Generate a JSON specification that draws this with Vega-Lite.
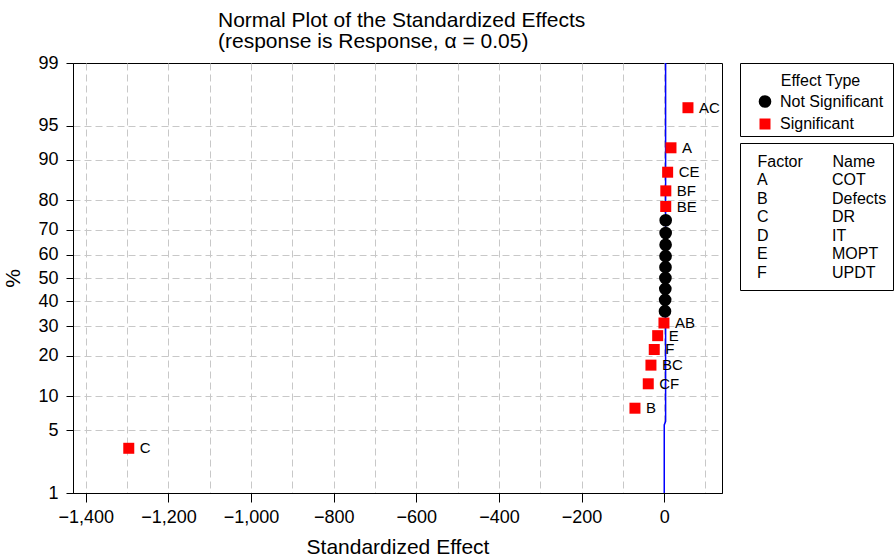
{
  "$schema": "https://vega.github.io/schema/vega-lite/v6.json",
  "padding": {"left": 2, "top": 9, "right": 2, "bottom": 0},
  "config": {
    "font": "Liberation Sans",
    "view": {"stroke": "black", "strokeWidth": 1},
    "axis": {"labelColor": "black", "titleColor": "black", "domainColor": "black", "tickColor": "black", "titleFontWeight": "normal"}
  },
  "datasets": {
    "effects": [
      {"term": "C", "effect": -1296, "z": -1.8425, "type": "Significant"},
      {"term": "B", "effect": -70.7, "z": -1.4089, "type": "Significant"},
      {"term": "CF", "effect": -38.5, "z": -1.1447, "type": "Significant"},
      {"term": "BC", "effect": -32, "z": -0.9428, "type": "Significant"},
      {"term": "F", "effect": -24, "z": -0.7735, "type": "Significant"},
      {"term": "E", "effect": -15.7, "z": -0.6239, "type": "Significant"},
      {"term": "AB", "effect": -0.5, "z": -0.4871, "type": "Significant"},
      {"term": "D", "effect": 2.0, "z": -0.359, "type": "Not Significant"},
      {"term": "AD", "effect": 2.4, "z": -0.2365, "type": "Not Significant"},
      {"term": "AE", "effect": 2.8, "z": -0.1174, "type": "Not Significant"},
      {"term": "AF", "effect": 3.0, "z": 0, "type": "Not Significant"},
      {"term": "BD", "effect": 3.2, "z": 0.1174, "type": "Not Significant"},
      {"term": "CD", "effect": 3.4, "z": 0.2365, "type": "Not Significant"},
      {"term": "DE", "effect": 3.5, "z": 0.359, "type": "Not Significant"},
      {"term": "DF", "effect": 3.6, "z": 0.4871, "type": "Not Significant"},
      {"term": "EF", "effect": 3.7, "z": 0.6239, "type": "Not Significant"},
      {"term": "BE", "effect": 3.8, "z": 0.7735, "type": "Significant"},
      {"term": "BF", "effect": 4.0, "z": 0.9428, "type": "Significant"},
      {"term": "CE", "effect": 8.4, "z": 1.1447, "type": "Significant"},
      {"term": "A", "effect": 16.5, "z": 1.4089, "type": "Significant"},
      {"term": "AC", "effect": 57.6, "z": 1.8425, "type": "Significant"}
    ],
    "fitline": [
      {"effect": 0.2, "z": -2.32635},
      {"effect": 0.2, "z": -1.59},
      {"effect": 3.5, "z": -1.55},
      {"effect": 3.5, "z": 2.32635}
    ],
    "types": [
      {"type": "Not Significant"},
      {"type": "Significant"}
    ],
    "factors": [
      {"Factor": "A", "Name": "COT"},
      {"Factor": "B", "Name": "Defects"},
      {"Factor": "C", "Name": "DR"},
      {"Factor": "D", "Name": "IT"},
      {"Factor": "E", "Name": "MOPT"},
      {"Factor": "F", "Name": "UPDT"}
    ]
  },
  "spacing": 16,
  "hconcat": [
    {
      "width": 649,
      "height": 430,
      "title": {
        "text": ["Normal Plot of the Standardized Effects", "(response is Response, α = 0.05)"],
        "anchor": "start",
        "frame": "group",
        "dx": 145,
        "fontSize": 21,
        "fontWeight": "normal",
        "lineHeight": 21,
        "offset": 2,
        "color": "black"
      },
      "layer": [
        {
          "data": {"name": "fitline"},
          "mark": {"type": "line", "color": "#0000ff", "strokeWidth": 1.5},
          "encoding": {
            "x": {"field": "effect", "type": "quantitative"},
            "y": {"field": "z", "type": "quantitative"},
            "order": {"field": "z", "type": "quantitative"}
          }
        },
        {
          "data": {"name": "effects"},
          "mark": {"type": "point", "filled": true, "opacity": 1},
          "encoding": {
            "x": {
              "field": "effect", "type": "quantitative",
              "title": "Standardized Effect",
              "scale": {"domain": [-1431, 140], "nice": false, "zero": false},
              "axis": {
                "values": [-1400, -1300, -1200, -1100, -1000, -900, -800, -700, -600, -500, -400, -300, -200, -100, 0, 100],
                "tickCount": 20,
                "labelExpr": "datum.value % 200 === 0 ? format(datum.value, ',') : ''",
                "labelOverlap": false,
                "tickOpacity": {"condition": {"test": "datum.value % 200 === 0", "value": 1}, "value": 0},
                "grid": true, "gridDash": [7, 4], "gridColor": "#c8c8c8",
                "tickSize": 9, "labelPadding": 6, "labelFontSize": 18,
                "titleFontSize": 21, "titlePadding": 10
              }
            },
            "y": {
              "field": "z", "type": "quantitative",
              "title": "%",
              "scale": {"domain": [-2.32635, 2.32635], "nice": false, "zero": false},
              "axis": {
                "values": [-2.32635, -1.64485, -1.28155, -0.84162, -0.5244, -0.25335, 0, 0.25335, 0.5244, 0.84162, 1.28155, 1.64485, 2.32635],
                "tickCount": 20,
                "labelExpr": "format(round(cumulativeNormal(datum.value) * 100), 'd')",
                "labelOverlap": false,
                "grid": true, "gridDash": [7, 4], "gridColor": "#c8c8c8",
                "gridOpacity": {"condition": {"test": "abs(datum.value) > 2.3", "value": 0}, "value": 1},
                "tickSize": 7, "labelPadding": 8, "labelFontSize": 18,
                "titleFontSize": 21, "titlePadding": 14
              }
            },
            "shape": {"field": "type", "type": "nominal", "scale": {"domain": ["Not Significant", "Significant"], "range": ["circle", "square"]}, "legend": null},
            "color": {"field": "type", "type": "nominal", "scale": {"domain": ["Not Significant", "Significant"], "range": ["black", "#ff0000"]}, "legend": null},
            "size": {"field": "type", "type": "ordinal", "scale": {"domain": ["Not Significant", "Significant"], "range": [160, 121]}, "legend": null}
          }
        },
        {
          "data": {"name": "effects"},
          "transform": [{"filter": "datum.type === 'Significant'"}],
          "mark": {"type": "text", "align": "left", "baseline": "middle", "dx": 11, "fontSize": 15, "color": "black"},
          "encoding": {
            "x": {"field": "effect", "type": "quantitative"},
            "y": {"field": "z", "type": "quantitative"},
            "text": {"field": "term"}
          }
        }
      ]
    },
    {
      "spacing": 5,
      "vconcat": [
        {
          "width": 153,
          "height": 73,
          "title": {"text": "Effect Type", "anchor": "middle", "offset": -26, "fontSize": 16, "fontWeight": "normal", "color": "black", "dx": 4},
          "data": {"name": "types"},
          "layer": [
            {
              "mark": {"type": "point", "filled": true, "opacity": 1},
              "encoding": {
                "x": {"datum": "symbol", "type": "nominal", "scale": {"type": "point", "domain": ["symbol", "label"], "range": [25, 40], "padding": 0}, "axis": null},
                "y": {"field": "type", "type": "nominal", "scale": {"type": "point", "domain": ["Not Significant", "Significant"], "range": [38.5, 61], "padding": 0}, "axis": null},
                "shape": {"field": "type", "type": "nominal", "legend": null},
                "color": {"field": "type", "type": "nominal", "legend": null},
                "size": {"field": "type", "type": "ordinal", "legend": null}
              }
            },
            {
              "mark": {"type": "text", "align": "left", "baseline": "middle", "fontSize": 16, "color": "black"},
              "encoding": {
                "x": {"datum": "label", "type": "nominal", "axis": null},
                "y": {"field": "type", "type": "nominal", "axis": null},
                "text": {"field": "type"}
              }
            }
          ]
        },
        {
          "width": 153,
          "height": 147,
          "data": {"name": "factors"},
          "transform": [{"fold": ["Factor", "Name"], "as": ["column", "entry"]}],
          "mark": {"type": "text", "align": "left", "baseline": "middle", "fontSize": 16, "color": "black"},
          "encoding": {
            "x": {
              "field": "column", "type": "nominal",
              "scale": {"type": "point", "domain": ["Factor", "Name"], "range": [17, 92], "padding": 0},
              "axis": {"orient": "top", "offset": -18, "domain": false, "ticks": false, "tickSize": 0, "labelPadding": 0, "labelAlign": "left", "labelBaseline": "middle", "labelAngle": 0, "labelFontSize": 16, "title": null, "grid": false}
            },
            "y": {
              "field": "Factor", "type": "nominal",
              "scale": {"type": "point", "domain": ["A", "B", "C", "D", "E", "F"], "range": [37, 130], "padding": 0},
              "axis": null
            },
            "text": {"field": "entry"}
          }
        }
      ]
    }
  ]
}
